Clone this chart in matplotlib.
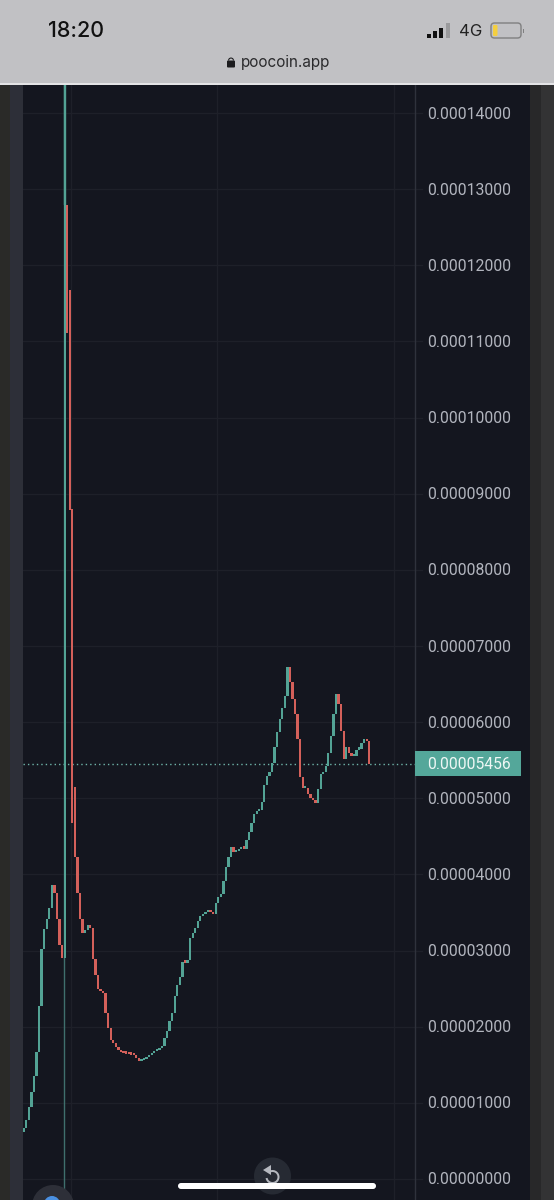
import numpy as np
import matplotlib
matplotlib.use("Agg")
import matplotlib.pyplot as plt
from matplotlib.patches import Rectangle, FancyBboxPatch, Circle, Wedge, Polygon

W, H = 554, 1200

# candle values, in units of 1e-5
closes = [0.67, 0.775, 0.946, 1.143, 1.353, 1.668, 2.272, 3.021, 3.283, 3.415,
          3.559, 3.861, 3.756, 3.415, 3.073, 2.903, 12.79, 11.11, 8.786, 4.676,
          4.229, 3.756, 3.415, 3.231, 3.27, 3.336, 3.297, 2.889, 2.679, 2.495,
          2.469, 2.443, 2.18, 1.983, 1.826, 1.786, 1.734, 1.694, 1.668, 1.655,
          1.648, 1.642, 1.635, 1.629, 1.589, 1.55, 1.563, 1.576, 1.602, 1.629,
          1.655, 1.681, 1.694, 1.72, 1.747, 1.852, 1.944, 2.075, 2.18, 2.403,
          2.548, 2.653, 2.85, 2.84, 2.876, 3.165, 3.231, 3.297, 3.388, 3.454,
          3.48, 3.507, 3.533, 3.507, 3.48, 3.625, 3.704, 3.743, 3.914, 4.098,
          4.229, 4.36, 4.295, 4.308, 4.335, 4.354, 4.34, 4.452, 4.557, 4.677,
          4.794, 4.833, 4.846, 4.951, 5.175, 5.29, 5.345, 5.464, 5.674, 5.87,
          6.04, 6.186, 6.344, 6.724, 6.53, 6.31, 6.11, 5.78, 5.28, 5.13, 5.13,
          5.05, 5.0, 4.98, 4.94, 5.12, 5.32, 5.35, 5.43, 5.6, 5.82,
          6.11, 6.37, 6.24, 5.89, 5.52, 5.67, 5.59, 5.55, 5.55, 5.64,
          5.65, 5.72, 5.78, 5.75, 5.456]
opens = [0.617] + closes[:-1]
# candles that gap away from the previous close
opens[17] = 12.79
opens[18] = 11.67
opens[19] = 8.80
opens[20] = 5.15

spike_index = 16
spike_high = 14.4

price_ticks = [0, 1, 2, 3, 4, 5, 6, 7, 8, 9, 10, 11, 12, 13, 14]
last_price = 5.456

BG = "#14161f"
GRID = "#1e2029"
UP = "#53a395"
DOWN = "#d4605a"
TXT = "#b2b5be"

fig = plt.figure(figsize=(W / 100, H / 100), dpi=100, facecolor="#2e2e30")


def box(x0, y0, x1, y1, **kw):
    fig.add_artist(Rectangle((x0 / W, 1 - y1 / H), (x1 - x0) / W, (y1 - y0) / H,
                             transform=fig.transFigure, lw=0, **kw))


# frame either side of the chart
box(0, 0, 10, H, color="#2a2a28", zorder=0)
box(10, 0, 23, H, color="#2d2f38", zorder=0)
box(530, 0, 541, H, color="#282829", zorder=0)
box(541, 0, 554, H, color="#333334", zorder=0)

# chart axes: y0 px 1179, 76.14 px per unit
ax = fig.add_axes([23 / W, 0, (530 - 23) / W, (H - 85) / H], facecolor=BG)
ax.set_ylim((1179 - 1200) / 76.14, (1179 - 85) / 76.14)
step = 2.56
x0_px = 23.7
ax.set_xlim((23 - x0_px) / step, (530 - x0_px) / step)
for s in ax.spines.values():
    s.set_visible(False)
ax.set_xticks([])
ax.set_yticks([])

# grid, only over the plot part
axis_x = (415 - x0_px) / step
for v in price_ticks:
    ax.plot([ax.get_xlim()[0], axis_x + 7 / step], [v, v], color=GRID, lw=1, zorder=1)
    ax.text((427 - x0_px) / step, v - 1 / 76.14, f"{v * 1e-5:.8f}", color=TXT, fontsize=11.3,
            family="Roboto", va="center", ha="left", zorder=5)
for px in (71.5, 217, 394):
    ax.axvline((px - x0_px) / step, color=GRID, lw=1, zorder=1)
ax.axvline(axis_x, color="#2f323c", lw=1, zorder=1)

# crosshair
ax.axvline((64 - x0_px) / step, color="#3f6f6d", lw=1, zorder=2)

# last price line
ax.plot([ax.get_xlim()[0], axis_x], [last_price, last_price], color="#6fb5aa", lw=1,
        dashes=(1, 2.2), zorder=2)

# candles
for i, (o, c) in enumerate(zip(opens, closes)):
    col = UP if c >= o else DOWN
    ax.add_patch(Rectangle((i - 0.45, min(o, c)), 0.9, max(abs(c - o), 0.03),
                           color=col, lw=0, zorder=3))
# wick of the big candle runs off the top
ax.plot([spike_index, spike_index], [closes[spike_index], spike_high], color=UP, lw=1.7,
        solid_capstyle="butt", zorder=3)

# last price label
lx0 = (415 - x0_px) / step
lx1 = (521 - x0_px) / step
ax.add_patch(Rectangle((lx0, last_price - 12.5 / 76.14), lx1 - lx0, 25 / 76.14,
                       color="#54a79a", lw=0, zorder=4))
ax.text((427 - x0_px) / step, last_price - 1 / 76.14, f"{last_price * 1e-5:.8f}", color="#eef7f5",
        fontsize=11.3, family="Roboto", va="center", ha="left", zorder=5)

# overlay for the phone ui, in pixel coordinates
ui = fig.add_axes([0, 0, 1, 1], facecolor="none")
ui.set_xlim(0, W)
ui.set_ylim(H, 0)
ui.axis("off")

ui.add_patch(Rectangle((0, 0), W, 83, color="#c1c1c4", lw=0, zorder=1))
ui.add_patch(Rectangle((0, 83), W, 1.5, color="#e4e4e6", lw=0, zorder=1))
ui.text(76, 31, "18:20", fontsize=15.5, family="Inter", weight="medium", color="#111111",
        ha="center", va="center", zorder=2)
ui.text(470.5, 31.5, "4G", fontsize=12, family="Inter", color="#222222",
        ha="center", va="center", zorder=2)
ui.text(286, 62.5, "poocoin.app", fontsize=11, family="Inter", color="#2a2a2c",
        ha="center", va="center", zorder=2)

# signal bars
for bx, top, col in [(427, 34, "#111111"), (433, 31, "#111111"), (439, 28, "#111111"),
                     (446, 23, "#9a9a9c")]:
    ui.add_patch(Rectangle((bx - 0.5, top), 4, 38 - top, color=col, lw=0, zorder=2))

# battery
ui.add_patch(FancyBboxPatch((491, 23), 30, 15, boxstyle="round,pad=0,rounding_size=3.5",
                            fc="none", ec="#7f7f80", lw=1, zorder=2))
ui.add_patch(FancyBboxPatch((493, 25), 4.5, 11, boxstyle="round,pad=0,rounding_size=1.2",
                            fc="#f4cf3f", ec="none", zorder=2))
ui.add_patch(Rectangle((522.5, 28.5), 1.2, 4, color="#7f7f80", lw=0, zorder=2))

# lock
ui.add_patch(FancyBboxPatch((227, 60.5), 8, 7, boxstyle="round,pad=0,rounding_size=1",
                            fc="#1c1c1e", ec="none", zorder=2))
ui.add_patch(Wedge((231, 60.5), 3, 180, 360, width=1.1, color="#1c1c1e", lw=0, zorder=2))

# reset button and home bar
ui.add_patch(Circle((272.5, 1176), 18.5, color="#262a33", lw=0, zorder=3))
ui.add_patch(Wedge((272.5, 1177), 7, 240, 170, width=2, color="#b5b8bf", lw=0, zorder=4))
ui.add_patch(Polygon([(263, 1170), (271, 1165), (271, 1175)], color="#b5b8bf", lw=0, zorder=4))
ui.add_patch(FancyBboxPatch((178, 1183), 198, 6, boxstyle="round,pad=0,rounding_size=3",
                            fc="white", ec="none", zorder=5))

# blue round button, bottom left
ui.add_patch(Circle((53, 1206), 21, color="#2d2f38", lw=0, zorder=3))
ui.add_patch(Circle((52, 1204), 8, color="#4a90e2", lw=0, zorder=4))

fig.savefig("out.png", dpi=100, facecolor=fig.get_facecolor())
